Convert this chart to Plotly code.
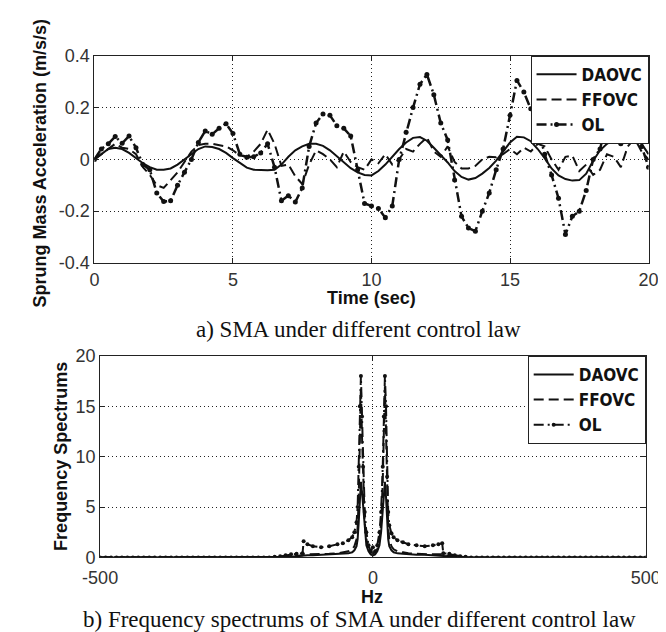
import plotly.graph_objects as go

# ---------------- top panel data (time series) ----------------
time_s = [0, 0.25, 0.5, 0.75, 1, 1.25, 1.5, 1.75, 2, 2.25, 2.5, 2.75, 3, 3.25, 3.5, 3.75,
          4, 4.25, 4.5, 4.75, 5, 5.25, 5.5, 5.75, 6, 6.25, 6.5, 6.75, 7, 7.25, 7.5, 7.75,
          8, 8.25, 8.5, 8.75, 9, 9.25, 9.5, 9.75, 10, 10.25, 10.5, 10.75, 11, 11.25, 11.5, 11.75,
          12, 12.25, 12.5, 12.75, 13, 13.25, 13.5, 13.75, 14, 14.25, 14.5, 14.75, 15, 15.25, 15.5, 15.75,
          16, 16.25, 16.5, 16.75, 17, 17.25, 17.5, 17.75, 18, 18.25, 18.5, 18.75, 19, 19.25, 19.5, 19.75, 20]

sma_daovc = [0, 0.02, 0.04, 0.045, 0.04, 0.025, 0.005, -0.015, -0.03, -0.04, -0.04, -0.035, -0.02, 0.0, 0.02, 0.04,
             0.05, 0.048, 0.04, 0.025, 0.005, -0.015, -0.032, -0.04, -0.042, -0.042, -0.04, -0.02, 0.01, 0.035, 0.05, 0.06,
             0.06, 0.052, 0.035, 0.012, -0.012, -0.034, -0.05, -0.06, -0.062, -0.045, -0.02, 0.01, 0.04, 0.065, 0.083, 0.086,
             0.072, 0.045, 0.018, -0.012, -0.045, -0.068, -0.078, -0.072, -0.055, -0.033, -0.005, 0.03, 0.065, 0.087, 0.085, 0.07,
             0.04, 0.005, -0.035, -0.062, -0.076, -0.082, -0.08, -0.055, -0.005, 0.035, 0.06, 0.078, 0.08, 0.09, 0.1, 0.06, 0.02]

sma_ffovc = [0, 0.02, 0.04, 0.06, 0.045, 0.04, 0.02, -0.03, -0.06, -0.1, -0.11, -0.08, -0.05, -0.01, 0.03, 0.055,
             0.06, 0.06, 0.055, 0.05, 0.035, 0.015, 0.01, 0.03, 0.06, 0.115, 0.06, -0.025, -0.02, -0.065, -0.095, -0.02,
             0.035, 0.02, 0.0, -0.03, 0.03, -0.01, -0.03, -0.04, 0.0, -0.015, 0.02, -0.02, 0.0, 0.04, 0.03, 0.06,
             0.085, 0.03, 0.01, 0.05, -0.01, -0.035, -0.035, -0.025, 0.0, 0.01, 0.008, 0.02, 0.04, 0.02, 0.045, 0.03,
             0.06, 0.05, 0.0, -0.04, 0.01, 0.015, -0.045, -0.02, -0.06, -0.04, 0.02, 0.01, -0.03, 0.05, 0.08, 0.03, 0.0]

sma_ol = [0, 0.04, 0.06, 0.088, 0.062, 0.09, 0.045, -0.02, -0.04, -0.13, -0.163, -0.16, -0.1, -0.05, 0.0, 0.065,
          0.11, 0.097, 0.12, 0.138, 0.1, 0.02, 0.008, 0.01, 0.025, 0.06, -0.03, -0.16, -0.14, -0.165, -0.11, 0.05,
          0.14, 0.175, 0.17, 0.13, 0.12, 0.09, -0.04, -0.17, -0.18, -0.19, -0.225, -0.18, 0.0, 0.105, 0.2, 0.29,
          0.328, 0.25, 0.14, 0.075, -0.08, -0.22, -0.265, -0.277, -0.2, -0.13, -0.04, 0.04, 0.17, 0.305, 0.26, 0.195,
          0.128, 0.02, -0.06, -0.15, -0.29, -0.22, -0.2, -0.12, 0.0, 0.04, 0.15, 0.07, 0.06, 0.08, 0.11, 0.05, -0.03]

# ---------------- bottom panel data (frequency spectrum) ----------------
freq_hz = [-500, -490, -480, -470, -460, -450, -440, -430, -420, -410, -400, -390, -380, -370, -360, -350,
           -340, -330, -320, -310, -300, -290, -280, -270, -260, -250, -240, -230, -220, -210, -200, -190,
           -180, -170, -160,
           -150, -140, -129, -127, -120, -110, -95, -80, -65, -55, -45, -38, -34, -30, -28, -26, -24, -22,
           -20, -18, -15, -12, -8, -4,
           0,
           4, 8, 12, 15, 18, 20, 22, 24, 26, 28, 30, 34, 38, 45, 55, 65, 80, 95, 110, 120, 127, 129, 140, 150,
           160, 170, 180, 190, 200, 210, 220, 230, 240, 250, 260, 270, 280, 290, 300, 310, 320, 330, 340, 350,
           360, 370, 380, 390, 400, 410, 420, 430, 440, 450, 460, 470, 480, 490, 500]

spec_daovc = [0, 0, 0, 0, 0, 0, 0, 0, 0, 0, 0, 0, 0, 0, 0, 0,
              0, 0, 0, 0, 0, 0, 0, 0, 0, 0, 0, 0, 0, 0, 0, 0,
              0, 0, 0.02,
              0.05, 0.1, 0.15, 0.2, 0.2, 0.2, 0.25, 0.25, 0.3, 0.35, 0.4, 0.5, 0.7, 1.1, 1.8, 3.5, 6.0, 7.5,
              6.5, 5.0, 2.5, 1.2, 0.6, 0.3,
              0.2,
              0.3, 0.6, 1.2, 2.5, 5.0, 6.5, 7.5, 6.0, 3.5, 1.8, 1.1, 0.7, 0.5, 0.4, 0.35, 0.3, 0.25, 0.25, 0.2, 0.2, 0.2, 0.15, 0.1, 0.05,
              0, 0, 0, 0, 0, 0, 0, 0, 0, 0, 0, 0, 0, 0, 0, 0,
              0, 0, 0, 0, 0, 0, 0, 0, 0, 0, 0, 0, 0, 0, 0, 0, 0, 0, 0]

spec_ffovc = [0, 0, 0, 0, 0, 0, 0, 0, 0, 0, 0, 0, 0, 0, 0, 0,
              0, 0, 0, 0, 0, 0, 0, 0, 0, 0, 0, 0, 0, 0, 0, 0,
              0, 0.02, 0.05,
              0.1, 0.15, 0.2, 0.3, 0.3, 0.3, 0.3, 0.35, 0.4, 0.5, 0.6, 0.8, 1.1, 1.8, 3.0, 6.0, 12.5, 17.0,
              12.0, 7.5, 3.5, 1.8, 0.8, 0.5,
              0.4,
              0.5, 0.8, 1.8, 3.5, 7.5, 12.0, 17.0, 12.5, 6.0, 3.0, 1.8, 1.1, 0.8, 0.6, 0.5, 0.4, 0.35, 0.3, 0.3, 0.3, 0.3, 0.2, 0.15, 0.1,
              0.05, 0, 0, 0, 0, 0, 0, 0, 0, 0, 0, 0, 0, 0, 0, 0,
              0, 0, 0, 0, 0, 0, 0, 0, 0, 0, 0, 0, 0, 0, 0, 0, 0, 0, 0]

spec_ol = [0, 0, 0, 0, 0, 0, 0, 0, 0, 0, 0, 0, 0, 0, 0, 0,
           0, 0, 0, 0, 0, 0, 0, 0, 0, 0, 0, 0, 0, 0, 0, 0,
           0.05, 0.1, 0.2,
           0.3, 0.35, 0.4, 1.6, 1.3, 1.1, 1.0, 1.1, 1.3, 1.4, 1.7, 2.0, 2.5, 3.5, 5.0, 9.0, 15.0, 18.0,
           14.0, 9.0, 4.5, 2.5, 1.2, 0.6,
           1.0,
           0.6, 1.2, 2.5, 4.5, 9.0, 14.0, 18.0, 15.0, 8.0, 4.5, 3.2, 2.4, 2.0, 1.7, 1.5, 1.3, 1.2, 1.1, 1.2, 1.3, 1.4, 0.4, 0.35, 0.2,
           0.1, 0.05, 0, 0, 0, 0, 0, 0, 0, 0, 0, 0, 0, 0, 0, 0,
           0, 0, 0, 0, 0, 0, 0, 0, 0, 0, 0, 0, 0, 0, 0, 0, 0, 0, 0]

series_names = ["DAOVC", "FFOVC", "OL"]

W, H = 666, 632


def px_x(p):
    return p / W


def px_y(p):
    return 1 - p / H


fig = go.Figure()

ink = "#111111"
dash_ff = "10px,5px"
dash_ol = "10px,4px,2px,4px"

# top traces
fig.add_trace(go.Scatter(x=time_s, y=sma_daovc, name=series_names[0], mode="lines",
                         line=dict(color=ink, width=2), xaxis="x", yaxis="y", legend="legend"))
fig.add_trace(go.Scatter(x=time_s, y=sma_ffovc, name=series_names[1], mode="lines",
                         line=dict(color=ink, width=2, dash=dash_ff), xaxis="x", yaxis="y", legend="legend"))
fig.add_trace(go.Scatter(x=time_s, y=sma_ol, name=series_names[2], mode="lines+markers",
                         line=dict(color=ink, width=2.5, dash=dash_ol),
                         marker=dict(color=ink, size=5, symbol="circle"),
                         xaxis="x", yaxis="y", legend="legend"))

# bottom traces
fig.add_trace(go.Scatter(x=freq_hz, y=spec_daovc, name=series_names[0], mode="lines",
                         line=dict(color=ink, width=2), xaxis="x2", yaxis="y2", legend="legend2"))
fig.add_trace(go.Scatter(x=freq_hz, y=spec_ffovc, name=series_names[1], mode="lines",
                         line=dict(color=ink, width=2, dash=dash_ff), xaxis="x2", yaxis="y2", legend="legend2"))
fig.add_trace(go.Scatter(x=freq_hz, y=spec_ol, name=series_names[2], mode="lines+markers",
                         line=dict(color=ink, width=2, dash=dash_ol),
                         marker=dict(color=ink, size=4, symbol="circle"),
                         xaxis="x2", yaxis="y2", legend="legend2"))

axis_common = dict(showline=True, linecolor="#222222", linewidth=1, mirror="ticks",
                   ticks="inside", ticklen=5, tickcolor="#222222",
                   showgrid=True, gridcolor="#222222", griddash="1px,3px", gridwidth=1,
                   zeroline=False,
                   tickfont=dict(family="Arial, Liberation Sans", size=18, color="#333333"))

legend_common = dict(xanchor="right", yanchor="top", bgcolor="white",
                     bordercolor="#222222", borderwidth=1,
                     font=dict(family="Liberation Sans Narrow, DejaVu Sans Condensed, Arial", size=17,
                               color="#111111", weight="bold"),
                     tracegroupgap=0, itemwidth=40)

title_font = dict(family="Arial, Liberation Sans", size=18, color="#111111", weight="bold")
caption_font = dict(family="Liberation Serif, Times New Roman, serif", size=23, color="#111111")

fig.update_layout(
    width=W, height=H,
    margin=dict(l=0, r=0, t=0, b=0),
    paper_bgcolor="white", plot_bgcolor="white",
    xaxis=dict(axis_common, domain=[px_x(72), px_x(655)], range=[0, 20],
               tickvals=[0, 5, 10, 15, 20], ticktext=["0", "5", "10", "15", "20"], anchor="y"),
    yaxis=dict(axis_common, domain=[px_y(253), px_y(39)], range=[-0.4, 0.4],
               tickvals=[-0.4, -0.2, 0, 0.2, 0.4], ticktext=["-0.4", "-0.2", "0", "0.2", "0.4"], anchor="x"),
    xaxis2=dict(axis_common, domain=[px_x(78), px_x(652)], range=[-500, 500],
                tickvals=[-500, 0, 500], ticktext=["-500", "0", "500"], anchor="y2",
                ticklabelstandoff=4),
    yaxis2=dict(axis_common, domain=[px_y(557), px_y(349)], range=[0, 20],
                tickvals=[0, 5, 10, 15, 20], ticktext=["0", "5", "10", "15", "20"], anchor="x2"),
    legend=dict(legend_common, x=px_x(655), y=px_y(39)),
    legend2=dict(legend_common, x=px_x(652), y=px_y(349)),
    showlegend=True,
    annotations=[
        dict(text="Time (sec)", x=px_x(363), y=px_y(289), xref="paper", yref="paper",
             showarrow=False, xanchor="center", yanchor="middle", font=title_font),
        dict(text="Sprung Mass Acceleration (m/s/s)", x=px_x(15), y=px_y(150), xref="paper", yref="paper",
             showarrow=False, xanchor="center", yanchor="middle", textangle=-90, font=title_font),
        dict(text="a) SMA under different control law", x=px_x(349.5), y=px_y(322), xref="paper", yref="paper",
             showarrow=False, xanchor="center", yanchor="middle", font=caption_font),
        dict(text="Frequency Spectrums", x=px_x(36), y=px_y(453), xref="paper", yref="paper",
             showarrow=False, xanchor="center", yanchor="middle", textangle=-90, font=title_font),
        dict(text="Hz", x=px_x(364), y=px_y(598), xref="paper", yref="paper",
             showarrow=False, xanchor="center", yanchor="middle", font=title_font),
        dict(text="b) Frequency spectrums of SMA under different control law", x=px_x(350.5), y=px_y(621),
             xref="paper", yref="paper", showarrow=False, xanchor="center", yanchor="middle", font=caption_font),
    ],
)

fig.write_html("out.html")
